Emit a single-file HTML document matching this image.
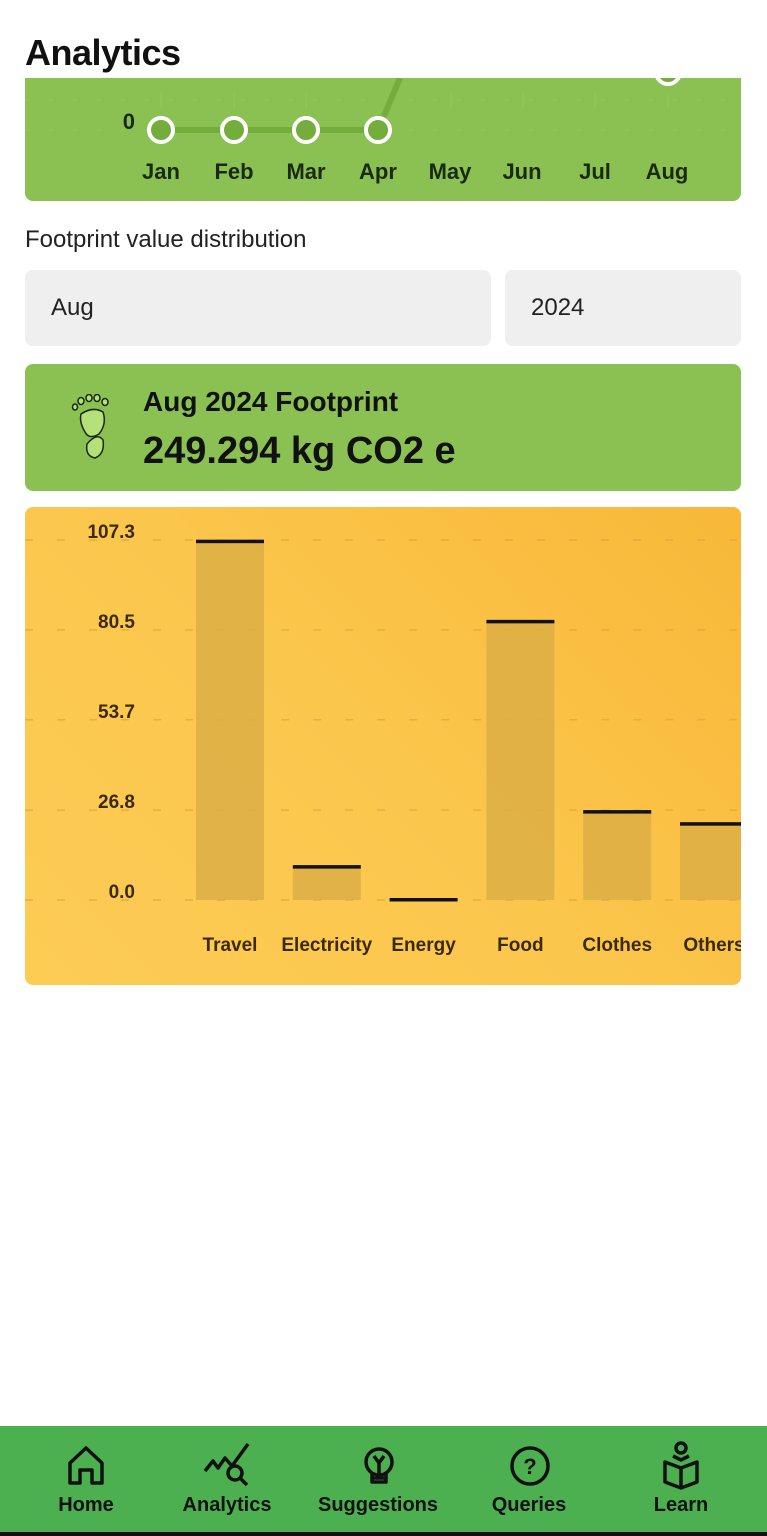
<!DOCTYPE html>
<html><head><meta charset="utf-8"><style>
*{margin:0;padding:0;box-sizing:border-box}
body{width:767px;height:1536px;background:#fff;font-family:"Liberation Sans",sans-serif;position:relative;overflow:hidden;color:#111}
.abs{position:absolute}
.title{left:25px;top:32px;font-size:36px;font-weight:bold;letter-spacing:-0.5px}
.card{border-radius:8px}
.month{position:absolute;top:159px;font-size:22px;font-weight:bold;color:#1a2a10;width:70px;text-align:center}
.nav{left:0;top:1426px;width:767px;height:106px;background:#4caf50}
.navitem{position:absolute;top:1494px;font-size:20px;font-weight:bold;width:140px;text-align:center}
</style></head><body>
<div class="abs title">Analytics</div>

<div class="abs card" style="left:25px;top:78px;width:716px;height:123px;background:#8bc152;border-radius:0 0 8px 8px;overflow:hidden">
<svg width="716" height="123" style="position:absolute;left:0;top:0">
<g stroke="#94c75e" stroke-width="1" stroke-dasharray="4 20">
<line x1="0" y1="52" x2="716" y2="52"/><line x1="0" y1="22" x2="716" y2="22"/></g>
<g stroke="#94c75e" stroke-width="1"><line x1="136" y1="15" x2="136" y2="30"/><line x1="209" y1="15" x2="209" y2="30"/><line x1="281" y1="15" x2="281" y2="30"/><line x1="426" y1="15" x2="426" y2="30"/><line x1="498" y1="15" x2="498" y2="30"/><line x1="570" y1="15" x2="570" y2="30"/><line x1="643" y1="15" x2="643" y2="30"/></g>
<polyline points="136,52 209,52 281,52 353,52 375,0" fill="none" stroke="#74ad3c" stroke-width="6"/>
<g fill="#74ad3c" stroke="#fff" stroke-width="4">
<circle cx="136" cy="52" r="12"/><circle cx="209" cy="52" r="12"/><circle cx="281" cy="52" r="12"/><circle cx="353" cy="52" r="12"/><circle cx="643" cy="-6" r="12"/></g>
<text x="110" y="51" font-family="Liberation Sans" font-weight="bold" font-size="22" fill="#1a2a10" text-anchor="end">0</text>
</svg>
</div>
<div class="month" style="left:126px">Jan</div>
<div class="month" style="left:199px">Feb</div>
<div class="month" style="left:271px">Mar</div>
<div class="month" style="left:343px">Apr</div>
<div class="month" style="left:415px">May</div>
<div class="month" style="left:487px">Jun</div>
<div class="month" style="left:560px">Jul</div>
<div class="month" style="left:632px">Aug</div>

<div class="abs" style="left:25px;top:226px;font-size:24px;color:#222">Footprint value distribution</div>
<div class="abs card" style="left:25px;top:270px;width:466px;height:76px;background:#efefef;font-size:24px;padding:24px 26px;color:#222">Aug</div>
<div class="abs card" style="left:505px;top:270px;width:236px;height:76px;background:#efefef;font-size:24px;padding:24px 26px;color:#222">2024</div>

<div class="abs card" style="left:25px;top:364px;width:716px;height:127px;background:#8bc152">
<svg class="abs" style="left:42px;top:30px" width="46" height="70">
<g fill="#b6e07a" stroke="#1a2a10" stroke-width="1.5">
<ellipse cx="8" cy="13" rx="2.5" ry="3"/><ellipse cx="14" cy="7" rx="3" ry="3.5"/><ellipse cx="22" cy="4" rx="3" ry="3.5"/><ellipse cx="30" cy="4" rx="3" ry="3.5"/><ellipse cx="38" cy="8" rx="3" ry="3.5"/>
<path d="M14 20 Q26 12 36 18 Q40 30 32 40 Q22 46 18 38 Q12 28 14 20Z"/>
<path d="M20 50 Q30 38 36 46 Q38 60 28 64 Q18 62 20 50Z"/></g></svg>
<div class="abs" style="left:118px;top:22px;font-size:28px;font-weight:bold">Aug 2024 Footprint</div>
<div class="abs" style="left:118px;top:66px;font-size:38px;font-weight:bold">249.294 kg CO2 e</div>
</div>

<div class="abs card" style="left:25px;top:507px;width:716px;height:478px;background:linear-gradient(225deg,#f8b838,#fbc64c 50%,#fdcc55);overflow:hidden">
<svg id="chart" width="716" height="478" style="position:absolute;left:0;top:0"></svg>
</div>

<div class="abs nav"></div>
<div class="abs" style="left:0;top:1532px;width:767px;height:4px;background:#111"></div>
<svg class="abs" style="left:0;top:1426px" width="767" height="106" fill="none" stroke="#111" stroke-width="3.5" stroke-linejoin="round">
<path d="M70 57 V37 L86 22 L102 37 V57 H92 V44 H80 V57 Z"/>
<path d="M205 45 L213 35 L218 42 L225 32 L232 40 L248 18"/><circle cx="235" cy="47" r="7"/><path d="M240 52 L247 59"/>
<circle cx="379" cy="36" r="13"/><path d="M372 48 V56 H386 V48 M373 52 H385 M374 30 L379 37 L384 30 M379 37 V48"/>
<circle cx="530" cy="40" r="18"/><text x="530" y="48" font-family="Liberation Sans" font-size="22" font-weight="bold" fill="#111" stroke="none" text-anchor="middle">?</text>
<circle cx="681" cy="22" r="5"/><path d="M665 36 L681 42 L697 36 V56 L681 62 L665 56 Z M681 42 V62 M673 30 L681 34 L689 30"/>
</svg>
<div class="navitem" style="left:16px">Home</div>
<div class="navitem" style="left:157px">Analytics</div>
<div class="navitem" style="left:308px">Suggestions</div>
<div class="navitem" style="left:459px">Queries</div>
<div class="navitem" style="left:611px">Learn</div>

<script>
const categories=["Travel","Electricity","Energy","Food","Clothes","Others"];
const values=[106.8,9.8,0,82.9,26.2,22.6];
const tickValues=[0,26.8,53.7,80.5,107.3];
const tickLabels=["0.0","26.8","53.7","80.5","107.3"];
const NS="http://www.w3.org/2000/svg";
const svg=document.getElementById("chart");
const y0=393,yTop=33,yMax=107.3;
function yScale(v){return y0-(v/yMax)*(y0-yTop);}
function xScale(i){return 205+i*96.8;}
function mk(t,a){const e=document.createElementNS(NS,t);for(const k in a)e.setAttribute(k,a[k]);svg.appendChild(e);return e;}
tickValues.forEach((v,i)=>{
  const y=yScale(v);
  const g=mk("line",{x1:0,x2:716,y1:y,y2:y,stroke:"#e0a83c","stroke-width":1.2,"stroke-dasharray":"8 24"});
  
  
  const t=mk("text",{x:110,y:y-2,"text-anchor":"end","font-family":"Liberation Sans","font-weight":"bold","font-size":19,fill:"#3a2a08"});
  t.textContent=tickLabels[i];
  
  
});
categories.forEach((c,i)=>{
  const cx=xScale(i),w=68,top=yScale(values[i]);
  const b=mk("rect",{x:cx-w/2,y:top,width:w,height:Math.max(0,y0-top),fill:"#dcae45",opacity:0.85});
  
  
  const l=mk("rect",{x:cx-w/2,y:top-2,width:w,height:3.5,fill:"#111"});
  
  
  const t=mk("text",{x:cx,y:444,"text-anchor":"middle","font-family":"Liberation Sans","font-weight":"bold","font-size":19,fill:"#3a2a08"});
  t.textContent=c;
  
  
});
</script>
</body></html>
